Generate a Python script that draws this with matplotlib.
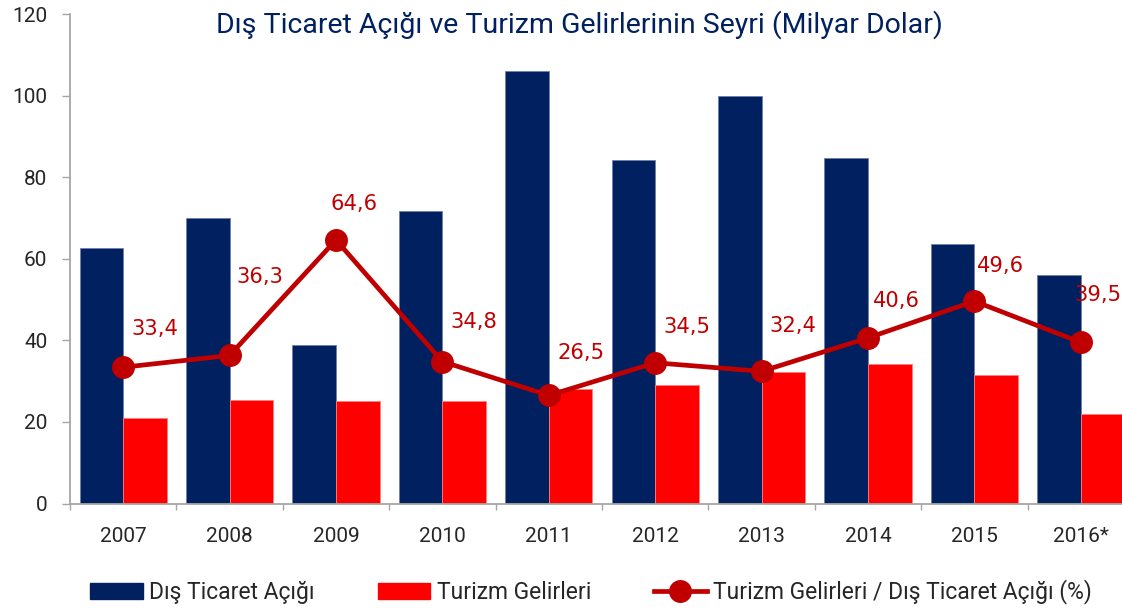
import matplotlib
matplotlib.use("Agg")
import matplotlib.pyplot as plt
from matplotlib.lines import Line2D
from matplotlib.patches import Patch
import numpy as np

years = ["2007", "2008", "2009", "2010", "2011", "2012", "2013", "2014", "2015", "2016*"]
dis_ticaret = [62.7, 70.0, 38.8, 71.7, 106.0, 84.1, 99.9, 84.6, 63.6, 56.1]
turizm = [20.9, 25.4, 25.1, 25.1, 28.1, 29.0, 32.3, 34.3, 31.4, 22.0]
oran = [33.4, 36.3, 64.6, 34.8, 26.5, 34.5, 32.4, 40.6, 49.6, 39.5]
oran_labels = ["33,4", "36,3", "64,6", "34,8", "26,5", "34,5", "32,4", "40,6", "49,6", "39,5"]

NAVY = "#002060"
RED = "#FF0000"
DARKRED = "#C00000"
TXT = "#262626"
AX = "#A6A6A6"

# label offsets in pixels (dx, dy) - style only
label_offsets = [(32, 38), (30, 78), (18, 36), (32, 40), (32, 42), (32, 36), (31, 45), (28, 37), (26, 35), (17, 47)]

fig = plt.figure(figsize=(11.22, 6.11), dpi=100)
W, H = 1122, 611
ax = fig.add_axes([70 / W, 107.5 / H, 1064 / W, 489.5 / H])

x = np.arange(len(years))
bw = 0.41
ax.bar(x - bw / 2, dis_ticaret, width=bw, color=NAVY, edgecolor="#6F7FA8", linewidth=0.6, zorder=2)
ax.bar(x + bw / 2, turizm, width=bw, color=RED, edgecolor="#FF8080", linewidth=0.6, zorder=2)
ax.plot(x, oran, color=DARKRED, linewidth=3.4, marker="o", markersize=15.5, zorder=3)

for xi, yi, lab, (dx, dy) in zip(x, oran, oran_labels, label_offsets):
    ax.annotate(lab, (xi, yi), xytext=(dx * 0.72, dy * 0.72), textcoords="offset points",
                ha="center", va="center", color=DARKRED, fontsize=15.2,
                family="DejaVu Sans", zorder=4, annotation_clip=False)

ax.set_xlim(-0.5, 9.5)
ax.set_ylim(0, 120)
ax.set_yticks(range(0, 121, 20))
ax.tick_params(axis="y", direction="out", length=5.8, width=1, color=AX, pad=10.5,
               labelsize=15, labelcolor=TXT)
for lb in ax.get_yticklabels():
    lb.set_family("Roboto")
ax.set_xticks(x)
ax.set_xticklabels(years, family="Roboto", fontsize=15, color=TXT)
ax.tick_params(axis="x", which="major", length=0, pad=17)
ax.set_xticks(np.arange(-0.5, 10, 1), minor=True)
ax.tick_params(axis="x", which="minor", direction="out", length=4.5, width=1, color=AX)

for s in ["top", "right"]:
    ax.spines[s].set_visible(False)
for s in ["left", "bottom"]:
    ax.spines[s].set_color(AX)
    ax.spines[s].set_linewidth(1.3)

fig.text(579 / W, 1 - 25 / H, "Dış Ticaret Açığı ve Turizm Gelirlerinin Seyri (Milyar Dolar)",
         ha="center", va="center", color=NAVY, fontsize=20.5, family="Roboto")

handles = [
    Patch(facecolor=NAVY, edgecolor=NAVY),
    Patch(facecolor=RED, edgecolor=RED),
    Line2D([0], [0], color=DARKRED, linewidth=3.4, marker="o", markersize=15.5),
]
labels = ["Dış Ticaret Açığı", "Turizm Gelirleri", "Turizm Gelirleri / Dış Ticaret Açığı (%)"]
leg = fig.legend(handles, labels, loc="center", bbox_to_anchor=(591 / W, 1 - 592 / H), ncol=3,
                 frameon=False, prop={"family": "Roboto", "size": 16.5}, handlelength=2.3,
                 handleheight=0.7, handletextpad=0.28, columnspacing=2.75, labelcolor=TXT)

fig.savefig("out.png", dpi=100)
